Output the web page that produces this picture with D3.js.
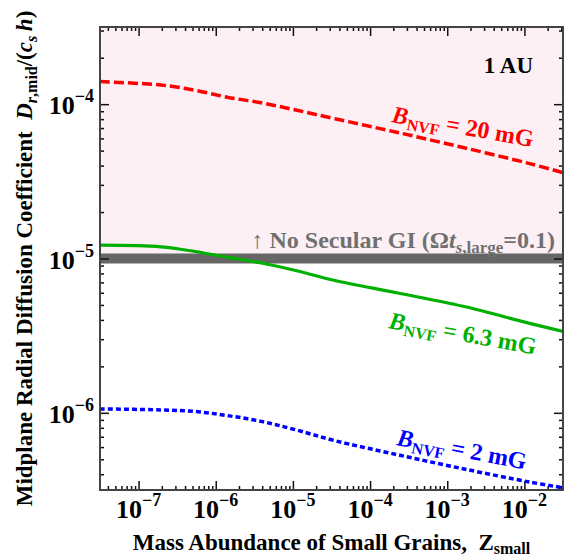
<!DOCTYPE html>
<html>
<head>
<meta charset="utf-8">
<script src="https://cdn.jsdelivr.net/npm/d3@7"></script>
<style>
  body { margin: 0; background: #fff; }
  text { font-family: "Liberation Serif", "Times New Roman", serif; font-weight: bold; }
</style>
</head>
<body>
<script>
// abundance of small grains (x) and midplane radial diffusion coefficient for three field strengths
const zSmall = [3.16e-8, 1.95e-7, 5.4e-7, 1.41e-6, 3.9e-6, 1.05e-5, 3.5e-5, 2.2e-4, 1.6e-3, 1.17e-2, 3.16e-2];
const dB20  = [1.40e-4, 1.33e-4, 1.23e-4, 1.11e-4, 1.02e-4, 9.2e-5, 8.05e-5, 6.58e-5, 5.24e-5, 4.12e-5, 3.6e-5];
const dB63  = [1.22e-5, 1.19e-5, 1.11e-5, 1.02e-5, 9.35e-6, 8.4e-6, 7.2e-6, 6.0e-6, 4.9e-6, 3.8e-6, 3.37e-6];
const dB2   = [1.06e-6, 1.045e-6, 1.02e-6, 9.6e-7, 8.8e-7, 7.8e-7, 6.6e-7, 5.37e-7, 4.34e-7, 3.56e-7, 3.27e-7];
const giLimit = 1e-5;

const xTicks = [1e-7, 1e-6, 1e-5, 1e-4, 1e-3, 1e-2];
const xTickExp = ["\u22127", "\u22126", "\u22125", "\u22124", "\u22123", "\u22122"];
const yTicks = [1e-6, 1e-5, 1e-4];
const yTickExp = ["\u22126", "\u22125", "\u22124"];

const margin = { top: 27, right: 12, bottom: 68, left: 100 },
      width = 575 - margin.left - margin.right,
      height = 558 - margin.top - margin.bottom;

const svg = d3.select("body").append("svg")
    .attr("width", 575)
    .attr("height", 558);

const g = svg.append("g")
    .attr("transform", `translate(${margin.left},${margin.top})`);

const x = d3.scaleLog()
    .domain([Math.pow(10, -7.5), Math.pow(10, -1.5)])
    .range([0, width]);

const y = d3.scaleLog()
    .domain([Math.pow(10, -6.5), Math.pow(10, -3.5)])
    .range([height, 0]);

// pink region above the GI limit
g.append("rect")
    .attr("x", 0)
    .attr("y", 0)
    .attr("width", width)
    .attr("height", y(giLimit))
    .style("fill", "#fcf0f4");

g.append("line")
    .attr("x1", 0)
    .attr("x2", width)
    .attr("y1", y(giLimit))
    .attr("y2", y(giLimit))
    .attr("stroke", "#666")
    .attr("stroke-width", 10);

g.append("text")
    .attr("x", 555 - margin.left)
    .attr("y", y(giLimit) - 11)
    .attr("text-anchor", "end")
    .style("font-size", "24px")
    .style("fill", "#707070")
    .call(t => {
      t.append("tspan").text("\u2191 No Secular GI (\u03a9");
      t.append("tspan").style("font-style", "italic").text("t");
      t.append("tspan").attr("dy", 5).style("font-size", "17px").style("font-style", "italic").text("s");
      t.append("tspan").style("font-size", "17px").text(",large");
      t.append("tspan").attr("dy", -5).text("=0.1)");
    });

// minor ticks
function minors(dom) {
  const out = [];
  for (let e = -9; e <= 0; e++) {
    for (let m = 2; m <= 9; m++) {
      const v = m * Math.pow(10, e);
      if (v > dom[0] && v < dom[1]) out.push(v);
    }
  }
  return out;
}
const xMin = minors(x.domain());
const yMin = minors(y.domain());

// inward ticks on all four sides
const sides = [
  [d3.axisBottom, x, `translate(0,${height})`, xTicks, xMin],
  [d3.axisTop, x, "translate(0,0)", xTicks, xMin],
  [d3.axisLeft, y, "translate(0,0)", yTicks, yMin],
  [d3.axisRight, y, `translate(${width},0)`, yTicks, yMin]
];
sides.forEach(([axisFn, sc, tr, major, minor]) => {
  g.append("g").attr("transform", tr).attr("class", "ax")
      .call(axisFn(sc).tickValues(major).tickSize(-9).tickFormat(""));
  g.append("g").attr("transform", tr).attr("class", "ax")
      .call(axisFn(sc).tickValues(minor).tickSize(-4).tickFormat(""));
});
g.selectAll(".ax path").remove();
g.selectAll(".ax line").attr("stroke", "#111").attr("stroke-width", 1.5);

// curves
const line = d3.line()
    .x(d => x(d[0]))
    .y(d => y(d[1]))
    .curve(d3.curveCatmullRom.alpha(0.5));

const series = [
  { vals: dB20, color: "#ff0000", dash: "10,4", w: 3.5 },
  { vals: dB63, color: "#00b000", dash: null, w: 3.2 },
  { vals: dB2,  color: "#0000ff", dash: "5,3", w: 3.5 }
];

g.append("clipPath").attr("id", "clip")
  .append("rect").attr("width", width).attr("height", height);

series.forEach(s => {
  g.append("path")
      .datum(zSmall.map((z, i) => [z, s.vals[i]]))
      .attr("clip-path", "url(#clip)")
      .attr("d", line)
      .attr("fill", "none")
      .attr("stroke", s.color)
      .attr("stroke-width", s.w)
      .attr("stroke-dasharray", s.dash);
});

// frame
g.append("rect")
    .attr("width", width)
    .attr("height", height)
    .attr("fill", "none")
    .attr("stroke", "#444")
    .attr("stroke-width", 2);

// curve labels
const curveLabels = [
  { text: "20 mG", color: "#ff0000", px: 391, py: 122, rot: 10 },
  { text: "6.3 mG", color: "#00b000", px: 388, py: 328, rot: 10.3 },
  { text: "2 mG", color: "#0000ff", px: 396, py: 445, rot: 10.7 }
];
curveLabels.forEach(c => {
  const t = svg.append("text")
      .attr("transform", `translate(${c.px},${c.py}) rotate(${c.rot})`)
      .style("font-size", "24px")
      .style("fill", c.color);
  t.append("tspan").style("font-style", "italic").text("B");
  t.append("tspan").attr("dy", 5).style("font-size", "16px").text("NVF");
  t.append("tspan").attr("dy", -5).text(" = " + c.text);
});

svg.append("text")
    .attr("x", 533)
    .attr("y", 73)
    .attr("text-anchor", "end")
    .style("font-size", "23px")
    .text("1 AU");

// tick labels
xTicks.forEach((v, i) => {
  const t = g.append("text")
      .attr("x", x(v))
      .attr("y", height + 28)
      .attr("text-anchor", "middle")
      .style("font-size", "26px");
  t.append("tspan").text("10");
  t.append("tspan").attr("dy", -12).style("font-size", "18px").text(xTickExp[i]);
});
yTicks.forEach((v, i) => {
  const t = g.append("text")
      .attr("x", -6)
      .attr("y", y(v) + 10)
      .attr("text-anchor", "end")
      .style("font-size", "26px");
  t.append("tspan").text("10");
  t.append("tspan").attr("dy", -12).style("font-size", "18px").text(yTickExp[i]);
});

// axis titles
svg.append("text")
    .attr("x", margin.left + width / 2)
    .attr("y", 550)
    .attr("text-anchor", "middle")
    .style("font-size", "23px")
    .call(t => {
      t.append("tspan").text("Mass Abundance of Small Grains,\u00a0\u00a0Z");
      t.append("tspan").attr("dy", 4).style("font-size", "16px").text("small");
    });

svg.append("text")
    .attr("transform", `translate(32,${margin.top + height / 2}) rotate(-90)`)
    .attr("text-anchor", "middle")
    .style("font-size", "23px")
    .call(t => {
      t.append("tspan").text("Midplane Radial Diffusion Coefficient\u00a0\u00a0");
      t.append("tspan").style("font-style", "italic").text("D");
      t.append("tspan").attr("dy", 5).style("font-size", "16px").style("font-style", "italic").text("r");
      t.append("tspan").style("font-size", "16px").text(",mid");
      t.append("tspan").attr("dy", -5).text("/(");
      t.append("tspan").style("font-style", "italic").text("c");
      t.append("tspan").attr("dy", 5).style("font-size", "16px").style("font-style", "italic").text("s");
      t.append("tspan").attr("dy", -5).style("font-style", "italic").text("\u2009h");
      t.append("tspan").text(")");
    });
</script>
</body>
</html>
